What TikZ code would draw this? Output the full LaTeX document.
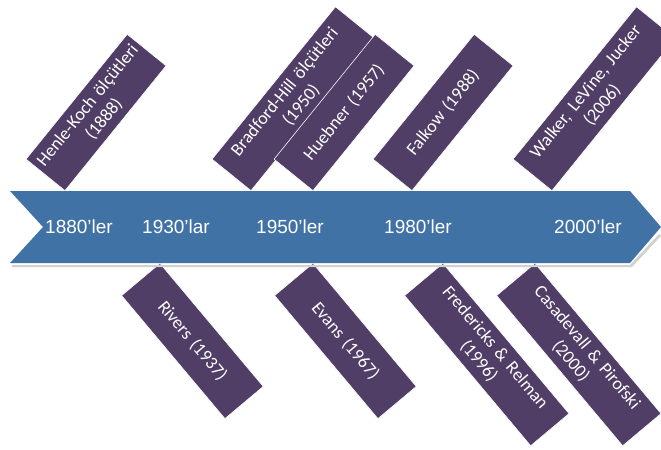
\documentclass[tikz,border=0pt]{standalone}
\usepackage{fontspec}
\setmainfont{Carlito}
\newfontfamily\yearfont{Liberation Sans}
\usetikzlibrary{positioning}
\usetikzlibrary{calc}

\definecolor{axisblue}{RGB}{65,114,165}
\definecolor{eventpurple}{RGB}{80,62,102}

\begin{document}
\begin{tikzpicture}[x=0.025cm, y=-0.025cm,
	eventbox/.style={fill=eventpurple, draw=white, line width=0.4pt, text=white, minimum height=1.25cm, inner xsep=0.5pt, inner ysep=2pt, align=center, font=\fontsize{12.8}{15}\selectfont},
	shortbox/.style={eventbox, minimum width=4cm, text width=3.98cm},
	longbox/.style={eventbox, minimum width=4.9cm, text width=4.8cm},
	abovebox/.style={rotate=51, anchor=south west},
	belowbox/.style={rotate=-50, anchor=north west},
	decade/.style={text=white, inner sep=0pt, font=\yearfont\fontsize{13.5}{16}\selectfont}]
	 % Fix the size of the page
	 \useasboundingbox (0,0) rectangle (661,449);

	 % Events above the time axis
	 \node[longbox, abovebox] (bradford) at (251,191) {Bradford-Hill ölçütleri\\(1950)};
	 \node[shortbox, abovebox] (henle) at (65,191) {Henle-Koch ölçütleri\\(1888)};
	 \node[shortbox, abovebox] (huebner) at (313,191) {Huebner (1957)};
	 \node[shortbox, abovebox] (falkow) at (412,191) {Falkow (1988)};
	 \node[longbox, abovebox] (walker) at (552,191) {Walker, LeVine, Jucker\\(2006)};

	 % Events below the time axis
	 \node[shortbox, belowbox] (rivers) at (160,263) {Rivers (1937)};
	 \node[shortbox, belowbox] (evans) at (313,263) {Evans (1967)};
	 \node[longbox, belowbox] (fredericks) at (443,263) {Fredericks \& Relman\\(1996)};
	 \node[longbox, belowbox] (casadevall) at (535,263) {Casadevall \& Pirofski\\(2000)};

	 % Time axis
	 \fill[black!18] (12,265) -- (630,265) -- (659,234) -- (661,236) -- (632,267) -- (12,267) -- cycle;
	 \fill[axisblue] (10,191) -- (630,191) -- (661,227) -- (630,263) -- (10,263) -- (43,227) -- cycle;

	 \foreach \x/\t/\n in {79/1880’ler/a, 176/1930’lar/b, 290/1950’ler/c, 418/1980’ler/d, 588/2000’ler/e} {
	 	\node[decade] (dec\n) at (\x,227) {\t};
	 }
\end{tikzpicture}
\end{document}
